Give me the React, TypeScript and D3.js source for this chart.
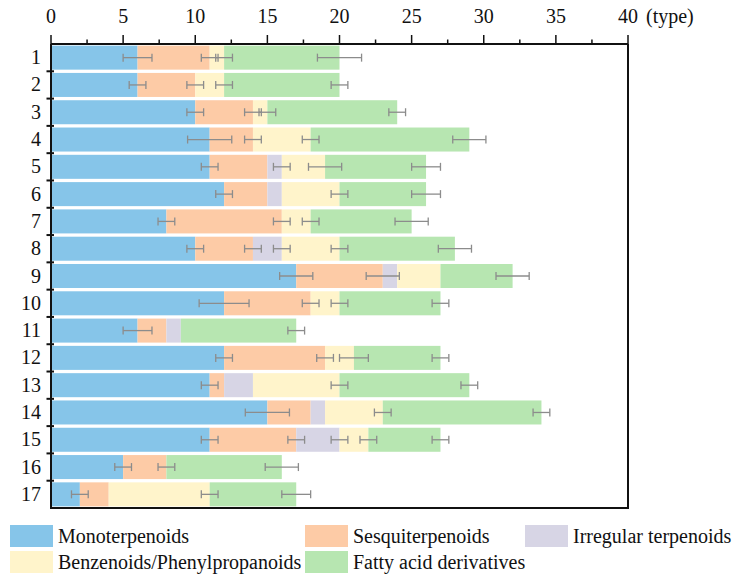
import React from "react";
import * as d3 from "d3";

const categories = ["1","2","3","4","5","6","7","8","9","10","11","12","13","14","15","16","17"];
const seriesNames = ["Monoterpenoids","Sesquiterpenoids","Irregular terpenoids","Benzenoids/Phenylpropanoids","Fatty acid derivatives"];
const seriesColors = ["#86C5E9","#FDCBA6","#D7D5E5","#FFF4CB","#B7E6B1"];

const mono = [6,6,10,11,11,12,8,10,17,12,6,12,11,15,11,5,2];
const sesqui = [5,4,4,3,4,3,8,4,6,6,2,7,1,3,6,3,2];
const irregular = [0,0,0,0,1,1,0,2,1,0,1,0,2,1,3,0,0];
const benz = [1,2,1,4,3,4,2,4,3,2,0,2,6,4,2,0,7];
const fatty = [8,8,9,11,7,6,7,8,5,7,8,6,9,11,5,8,6];

const monoErr = [1.0,0.58,0.58,1.53,0.58,0.58,0.58,0.58,1.15,1.73,1.0,0.58,0.58,1.53,0.58,0.58,0.58];
const sesquiErr = [0.58,0.58,0.58,0.58,0,0,0.58,0.58,1.15,0.58,0,0.58,0,0,0.58,0.58,0];
const irregularErr = [0,0,0,0,0.58,0,0,0.58,0,0,0,0,0,0,0.58,0,0];
const benzErr = [0.58,0.58,0.58,0.58,1.15,0.58,0.58,0.58,0,0.58,0,1.0,0.58,0.58,0.58,0,0.58];
const fattyErr = [1.53,0.58,0.58,1.15,1.0,1.0,1.15,1.15,1.15,0.58,0.58,0.58,0.58,0.58,0.58,1.15,1.0];

const xTicks = [0,5,10,15,20,25,30,35,40];
const xMinorTicks = [2.5,7.5,12.5,17.5,22.5,27.5,32.5,37.5];
const xUnit = "(type)";

const FONT = "'Liberation Serif', 'Times New Roman', serif";

export default function App() {
  const values = [mono, sesqui, irregular, benz, fatty];
  const errs = [monoErr, sesquiErr, irregularErr, benzErr, fattyErr];

  const left = 51, right = 628, top = 44, bottom = 508;
  const x = d3.scaleLinear().domain([0, 40]).range([left, right]);
  const y = d3.scaleBand<string>().domain(categories).range([top, bottom]).paddingInner(0.12).paddingOuter(0.06);
  const step = y.step();

  const rows = categories.map((c, i) => {
    const vals = values.map(s => s[i]);
    const ends = d3.cumsum(vals);
    return { c, i, vals, ends: Array.from(ends) };
  });

  const capH = 8;

  const legendRows = [
    [0, 1, 2],
    [3, 4],
  ];
  const legendCols = [10, 305, 525];
  const legendY = [525, 551];

  return (
    <svg width={736} height={581} style={{ position: "absolute", left: 0, top: 0, background: "#fff" }} fontFamily={FONT}>
      <rect x={0} y={0} width={736} height={581} fill="#fff" />
      {/* bars */}
      {rows.map(r => (
        <g key={r.c}>
          {r.vals.map((v, k) => {
            if (v <= 0) return null;
            const x0 = k === 0 ? 0 : r.ends[k - 1];
            return (
              <rect key={k} x={x(x0)} y={y(r.c)!} width={x(r.ends[k]) - x(x0)} height={y.bandwidth()} fill={seriesColors[k]} />
            );
          })}
        </g>
      ))}
      {/* error bars */}
      {rows.map(r => {
        const cy = y(r.c)! + y.bandwidth() / 2;
        return (
          <g key={"e" + r.c} stroke="#8C8C8C" strokeWidth={1.3}>
            {errs.map((es, k) => {
              const e = es[r.i];
              if (!e || r.vals[k] <= 0) return null;
              const m = r.ends[k];
              const a = x(m - e), b = x(m + e);
              return (
                <g key={k}>
                  <line x1={a} x2={b} y1={cy} y2={cy} />
                  <line x1={a} x2={a} y1={cy - capH / 2} y2={cy + capH / 2} />
                  <line x1={b} x2={b} y1={cy - capH / 2} y2={cy + capH / 2} />
                </g>
              );
            })}
          </g>
        );
      })}
      {/* frame */}
      <g stroke="#111" strokeWidth={2} fill="none">
        <line x1={left} x2={right} y1={top} y2={top} />
        <line x1={left} x2={right} y1={bottom} y2={bottom} />
        <line x1={left} x2={left} y1={top} y2={bottom + 1} />
        <line x1={right} x2={right} y1={top} y2={bottom + 1} />
      </g>
      {/* top ticks */}
      <g stroke="#111" strokeWidth={1.5}>
        {xTicks.map(t => (
          <line key={t} x1={x(t)} x2={x(t)} y1={35} y2={top} />
        ))}
        {xMinorTicks.map(t => (
          <line key={t} x1={x(t)} x2={x(t)} y1={39.5} y2={top} />
        ))}
      </g>
      <g fontSize={20} fill="#111" textAnchor="middle">
        {xTicks.map(t => (
          <text key={t} x={x(t)} y={23}>{t}</text>
        ))}
        <text x={646} y={23} textAnchor="start">{xUnit}</text>
      </g>
      {/* left ticks at band boundaries */}
      <g stroke="#111" strokeWidth={2}>
        {categories.slice(1).map(c => {
          const yy = y(c)! - (step - y.bandwidth()) / 2;
          return <line key={c} x1={46.5} x2={54} y1={yy} y2={yy} />;
        })}
      </g>
      <g fontSize={20} fill="#111" textAnchor="end">
        {categories.map(c => (
          <text key={c} x={41} y={y(c)! + y.bandwidth() / 2 + 6.5}>{c}</text>
        ))}
      </g>
      {/* legend */}
      <g fontSize={20} fill="#111">
        {legendRows.map((row, ri) =>
          row.map((k, ci) => (
            <g key={k}>
              <rect x={legendCols[ci]} y={legendY[ri]} width={43} height={22} fill={seriesColors[k]} />
              <text x={legendCols[ci] + 48} y={legendY[ri] + 18}>{seriesNames[k]}</text>
            </g>
          ))
        )}
      </g>
    </svg>
  );
}
